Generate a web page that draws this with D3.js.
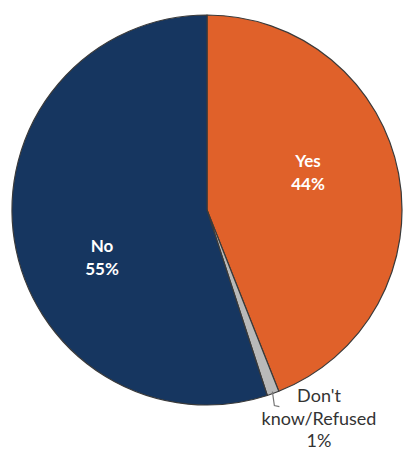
<!DOCTYPE html>
<html>
<head>
<meta charset="utf-8">
<script src="https://cdn.jsdelivr.net/npm/d3@7"></script>
<style>
  html, body { margin: 0; padding: 0; background: #fff; }
  svg { display: block; }
</style>
</head>
<body>
<svg id="chart" width="403" height="453"></svg>
<script>
// Survey responses, clockwise from 12 o'clock
const categories = ["Yes", "Don't know/Refused", "No"];
const shares = [44, 1, 55];
const colors = ["#e0612a", "#b9b9b9", "#163660"];

const svg = d3.select("#chart");
const cx = 207, cy = 210, r = 195;

const pie = d3.pie().sort(null).value(d => d.value);
const arcs = pie(categories.map((c, i) => ({ name: c, value: shares[i] })));

const arc = d3.arc().innerRadius(0).outerRadius(r);
const g = svg.append("g").attr("transform", `translate(${cx},${cy})`);

g.selectAll("path.slice")
  .data(arcs)
  .join("path")
  .attr("class", "slice")
  .attr("d", arc)
  .attr("fill", (d, i) => colors[i])
  .attr("stroke", "#3a3a3a")
  .attr("stroke-width", 1.2)
  .attr("stroke-linejoin", "round");

// Inside labels for the two large slices
const inside = [
  { idx: 0, x: 308, y: 167 },
  { idx: 2, x: 102, y: 252 }
];
inside.forEach(o => {
  const t = svg.append("text")
    .attr("x", o.x).attr("y", o.y)
    .attr("text-anchor", "middle")
    .attr("fill", "#ffffff")
    .attr("font-family", "Lato, 'Open Sans', sans-serif")
    .attr("font-weight", "bold")
    .attr("font-size", 17);
  t.append("tspan").attr("x", o.x).attr("dy", 0).text(categories[o.idx]);
  t.append("tspan").attr("x", o.x).attr("dy", 23).text(shares[o.idx] + "%");
});

// Outside label with leader for the small slice
const small = arcs[1];
const mid = (small.startAngle + small.endAngle) / 2;
const edge = [Math.sin(mid) * (r - 2) + cx, -Math.cos(mid) * (r - 2) + cy];
svg.append("path")
  .attr("d", `M${edge[0]},${edge[1]} L${edge[0] + 2},${edge[1] + 14} L${edge[0] + 7},${edge[1] + 15}`)
  .attr("fill", "none")
  .attr("stroke", "#777")
  .attr("stroke-width", 1.2);

const lx = 319;
const ot = svg.append("text")
  .attr("text-anchor", "middle")
  .attr("fill", "#333")
  .attr("font-family", "Lato, 'Open Sans', sans-serif")
  .attr("font-size", 18);
const parts = categories[1].split(" ");
ot.append("tspan").attr("x", lx).attr("y", 402).text(parts[0]);
ot.append("tspan").attr("x", lx).attr("y", 425).text(parts[1]);
ot.append("tspan").attr("x", lx).attr("y", 447).text(shares[1] + "%");
</script>
</body>
</html>
